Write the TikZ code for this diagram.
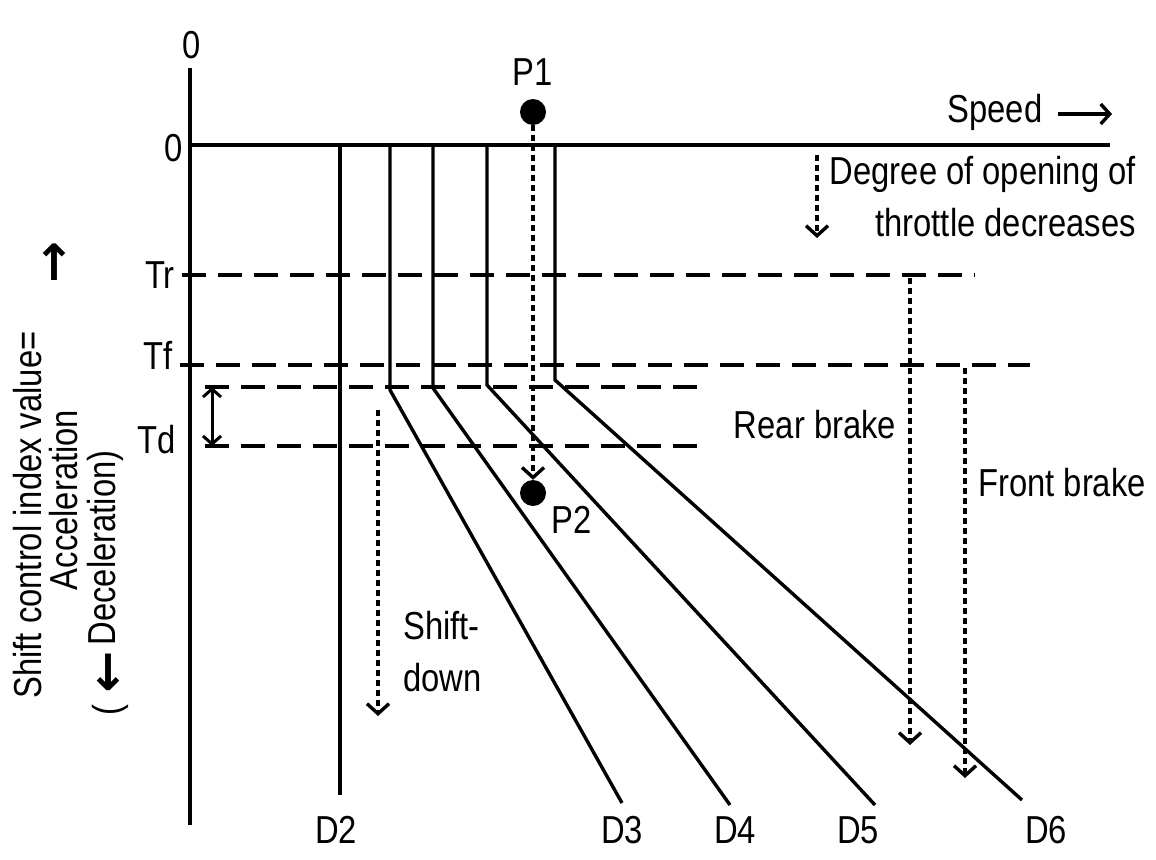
\documentclass[tikz,border=0pt]{standalone}
\usepackage{fontspec}
\setmainfont{Liberation Sans}[FakeStretch=0.84]
\newfontfamily\arr{DejaVu Sans Bold}
\usetikzlibrary{arrows.meta}
\begin{document}
\begin{tikzpicture}[x=1pt,y=-1pt,
 ln/.style={line width=3.4pt},
 dsh/.style={line width=3.4pt,dash pattern=on 24pt off 12pt},
 dot/.style={line width=4pt,dash pattern=on 6pt off 4pt,-{Straight Barb[length=10pt,width=22pt,line width=3.4pt]}},
 lab/.style={inner sep=0pt,font=\fontsize{39}{52}\selectfont},
 pt/.style={circle,fill,inner sep=0pt,minimum size=26pt}]
\useasboundingbox (0,0) rectangle (1156,859);
% axes
\coordinate (yt) at (190,68); \coordinate (yb) at (190,825);
\draw[ln] (yt) -- (yb);
\coordinate (xl) at (190,145); \coordinate (xr) at (1110,145);
\draw[ln] (xl) -- (xr);
\node[lab] (z1) at (192,45) {0};
\node[lab] (z2) at (174,148) {0};
\node[lab] (spd) at (995,112) {Speed};
\coordinate (sa1) at (1058,114); \coordinate (sa2) at (1112,114);
\draw[line width=3.4pt,-{Straight Barb[length=9pt,width=20pt,line width=3.4pt]}] (sa1) -- (sa2);
% shift lines
\coordinate (a2) at (340,145); \coordinate (b2) at (340,795);
\draw[ln] (a2) -- (b2);
\coordinate (a3) at (390,145); \coordinate (m3) at (390,390); \coordinate (b3) at (622,803);
\draw[ln] (a3) -- (m3) -- (b3);
\coordinate (a4) at (433,145); \coordinate (m4) at (433,388); \coordinate (b4) at (730,805);
\draw[ln] (a4) -- (m4) -- (b4);
\coordinate (a5) at (487,145); \coordinate (m5) at (487,385); \coordinate (b5) at (875,805);
\draw[ln] (a5) -- (m5) -- (b5);
\coordinate (a6) at (555,145); \coordinate (m6) at (555,380); \coordinate (b6) at (1022,800);
\draw[ln] (a6) -- (m6) -- (b6);
\node[lab] (D2) at (336,830) {D2};
\node[lab] (D3) at (622,830) {D3};
\node[lab] (D4) at (735,830) {D4};
\node[lab] (D5) at (858,830) {D5};
\node[lab] (D6) at (1046,830) {D6};
% thresholds
\coordinate (tr1) at (182,275); \coordinate (tr2) at (975,275);
\draw[dsh] (tr1) -- (tr2);
\coordinate (tf1) at (180,365); \coordinate (tf2) at (1030,365);
\draw[dsh] (tf1) -- (tf2);
\coordinate (tx1) at (205,387); \coordinate (tx2) at (700,387);
\draw[dsh] (tx1) -- (tx2);
\coordinate (td1) at (205,446); \coordinate (td2) at (705,446);
\draw[dsh] (td1) -- (td2);
\node[lab] (Tr) at (160,275) {Tr};
\node[lab] (Tf) at (158,355) {Tf};
\node[lab] (Td) at (157,440) {Td};
\coordinate (da) at (212,387); \coordinate (db) at (212,446);
\draw[line width=3pt,{Straight Barb[length=8pt,width=18pt,line width=3pt]}-{Straight Barb[length=8pt,width=18pt,line width=3pt]}] (da) -- (db);
% P1 P2
\node[pt] (P1) at (533,112) {};
\node[pt] (P2) at (533,493) {};
\node[lab] (P1l) at (533,72) {P1};
\node[lab] (P2l) at (572,520) {P2};
\draw[dot] (P1) -- (P2.north);
% throttle
\coordinate (th1) at (817,155); \coordinate (th2) at (817,238);
\draw[dot] (th1) -- (th2);
\node[lab,align=right,anchor=east] (thl) at (1136,197) {Degree of opening of\\throttle decreases};
% brakes
\coordinate (rb1) at (910,278); \coordinate (rb2) at (910,745);
\draw[dot] (rb1) -- (rb2);
\node[lab] (rbl) at (815,425) {Rear brake};
\coordinate (fb1) at (965,368); \coordinate (fb2) at (965,778);
\draw[dot] (fb1) -- (fb2);
\node[lab] (fbl) at (1062,483) {Front brake};
% shift-down
\coordinate (sd1) at (378,410); \coordinate (sd2) at (378,716);
\draw[dot] (sd1) -- (sd2);
\node[lab,align=left,anchor=west] (sdl) at (403,652) {Shift-\\down};
% y label
\node[lab,rotate=90] (yl1) at (28,515) {Shift control index value=};
\node[lab,rotate=90] (yl2) at (64,500) {Acceleration};
\node[lab,rotate=90] (yl3) at (105,548) {Deceleration)};
\node[lab,rotate=90] (yl4) at (110,710) {(};
\node[lab,font=\fontsize{50}{50}\selectfont] (up) at (54,262) {\arr{↑}};
\node[lab,font=\fontsize{50}{50}\selectfont] (dn) at (108,672) {\arr{↓}};
\end{tikzpicture}
\end{document}
